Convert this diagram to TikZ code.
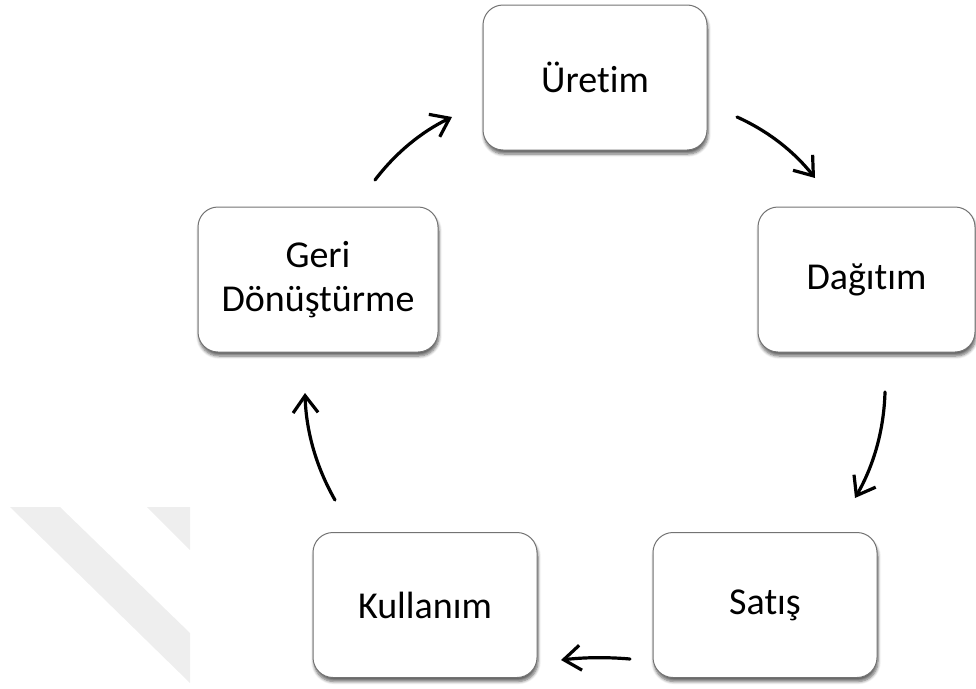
\documentclass[tikz,border=0pt]{standalone}
\usepackage{fontspec}
\setmainfont[Ligatures=NoCommon]{Carlito}
\usetikzlibrary{arrows.meta,shadows.blur}
\definecolor{boxline}{HTML}{737373}
\definecolor{faintgray}{HTML}{EEEEEE}
\tikzset{
  stage/.style={draw=boxline, line width=1pt, fill=white, rounded corners=20pt,
    minimum width=224pt, minimum height=145pt, inner sep=0pt, align=center,
    font=\fontsize{38}{44}\selectfont,
    blur shadow={shadow xshift=1pt, shadow yshift=-4pt, shadow blur radius=3pt,
      shadow blur steps=6, shadow opacity=60}},
  flow/.style={line width=3.2pt, line cap=round,
    -{Straight Barb[length=17pt,width=25pt,line width=3.2pt]}}
}
\begin{document}
\begin{tikzpicture}[x=1pt,y=-1pt]
\useasboundingbox (0,0) rectangle (976,688);
% faint corner mark
\fill[faintgray] (10,507) -- (60,507) -- (190,633) -- (190,683) -- cycle;
\fill[faintgray] (147,507) -- (190,507) -- (190,550) -- cycle;

% stages of the cycle
\node[stage] (uretim)  at (595,77.5)  {Üretim};
\node[stage, minimum width=217pt] (dagitim) at (866.5,279.5) {Dağıtım};
\node[stage] (satis)   at (765,605)   {Satış};
\node[stage] (kullanim) at (425,605)  {Kullanım};
\node[stage, minimum width=240pt] (geri) at (318,279.5) {Geri\\Dönüştürme};

% arrow end points between the stages
\coordinate (g1) at (375,180);   \coordinate (u0) at (452,117);
\coordinate (u1) at (737,117);   \coordinate (d0) at (815,178);
\coordinate (d1) at (885,392);   \coordinate (s0) at (855,498);
\coordinate (s1) at (630,659);   \coordinate (k0) at (561,660);
\coordinate (k1) at (335,500);   \coordinate (g0) at (305,393);

\draw[flow] (g1) .. controls (395.6,152.9) and (421.3,131.9) .. (u0);
\draw[flow] (u1) .. controls (768,131) and (793.9,151.3) .. (d0);
\draw[flow] (d1) .. controls (883.9,429.9) and (873.9,465.2) .. (s0);
\draw[flow] (s1) .. controls (607.3,657) and (584.3,657.3) .. (k0);
\draw[flow] (k1) .. controls (316.1,466.9) and (306.1,431.2) .. (g0);
\end{tikzpicture}
\end{document}
